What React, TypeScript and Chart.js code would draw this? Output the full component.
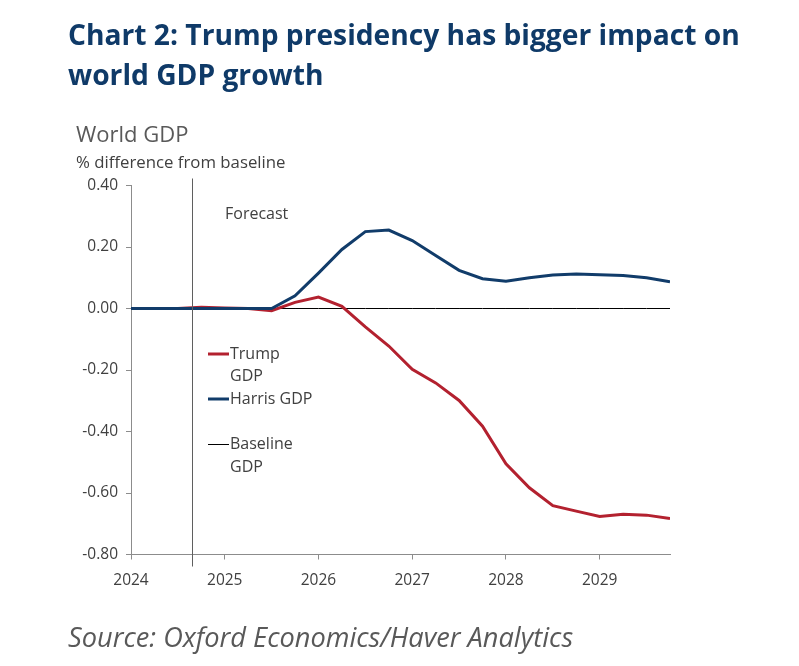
import React, { useEffect, useRef } from "react";
import { Chart, registerables } from "chart.js";

Chart.register(...registerables);

const QUARTERS = [
  2024.0, 2024.25, 2024.5, 2024.75,
  2025.0, 2025.25, 2025.5, 2025.75,
  2026.0, 2026.25, 2026.5, 2026.75,
  2027.0, 2027.25, 2027.5, 2027.75,
  2028.0, 2028.25, 2028.5, 2028.75,
  2029.0, 2029.25, 2029.5, 2029.75,
];
const TRUMP_GDP = [
  0.0, 0.0, 0.0, 0.004,
  0.002, 0.0, -0.007, 0.02,
  0.037, 0.007, -0.06, -0.122,
  -0.198, -0.242, -0.299, -0.383,
  -0.505, -0.583, -0.641, -0.659,
  -0.676, -0.669, -0.672, -0.683,
];
const HARRIS_GDP = [
  0.0, 0.0, 0.0, 0.0,
  0.0, 0.0, 0.0, 0.041,
  0.115, 0.192, 0.25, 0.255,
  0.221, 0.172, 0.124, 0.097,
  0.089, 0.1, 0.109, 0.112,
  0.11, 0.107, 0.1, 0.087,
];
const BASELINE_GDP = [
  0, 0, 0, 0, 0, 0, 0, 0, 0, 0, 0, 0,
  0, 0, 0, 0, 0, 0, 0, 0, 0, 0, 0, 0,
];
const YEAR_TICKS = [2024, 2025, 2026, 2027, 2028, 2029];
const Y_TICKS = [-0.8, -0.6, -0.4, -0.2, 0.0, 0.2, 0.4];
const FORECAST_START = 2024.65;

const TITLE_LINES = ["Chart 2: Trump presidency has bigger impact on", "world GDP growth"];
const SUBTITLE = "World GDP";
const UNITS = "% difference from baseline";
const SOURCE = "Source: Oxford Economics/Haver Analytics";
const FORECAST_LABEL = "Forecast";

const RED = "#b3212f";
const BLUE = "#113c6a";
const TEXT = "#404040";
const AXIS = "#8c8c8c";
const FONT = "'Open Sans', 'Noto Sans', sans-serif";

const LEGEND = [
  { lines: ["Trump", "GDP"], color: RED, width: 3 },
  { lines: ["Harris GDP"], color: BLUE, width: 3 },
  { lines: [""], color: null, width: 0 },
  { lines: ["Baseline", "GDP"], color: "#000000", width: 1 },
];

const overlayPlugin = {
  id: "overlay",
  afterDatasetsDraw(chart: any) {
    const { ctx, chartArea, scales } = chart;
    const x = scales.x.getPixelForValue(FORECAST_START);
    ctx.save();
    // forecast divider
    ctx.strokeStyle = "#5f5f5f";
    ctx.lineWidth = 1;
    ctx.beginPath();
    ctx.moveTo(Math.round(x) + 0.5, chartArea.top - 7);
    ctx.lineTo(Math.round(x) + 0.5, chartArea.bottom + 12);
    ctx.stroke();
    ctx.fillStyle = TEXT;
    ctx.font = `16px ${FONT}`;
    ctx.textBaseline = "middle";
    ctx.textAlign = "left";
    ctx.fillText(FORECAST_LABEL, chartArea.left + 94, chartArea.top + 29);

    // legend
    const lx = chartArea.left + 77;
    const rowH = 22.6;
    let row = 0;
    const y0 = chartArea.top + 168.5;
    for (const item of LEGEND) {
      const yy = y0 + row * rowH;
      if (item.color) {
        const off = item.width === 1 ? 0.5 : 0;
        ctx.strokeStyle = item.color;
        ctx.lineWidth = item.width;
        ctx.beginPath();
        ctx.moveTo(lx, Math.round(yy) + off);
        ctx.lineTo(lx + 21, Math.round(yy) + off);
        ctx.stroke();
      }
      item.lines.forEach((t, i) => {
        ctx.fillText(t, lx + 22, yy + i * rowH);
      });
      row += item.lines.length;
    }
    ctx.restore();
  },
};

export default function App() {
  const ref = useRef<HTMLCanvasElement | null>(null);

  useEffect(() => {
    document.body.style.margin = "0";
    const mk = (vals: number[]) => vals.map((v, i) => ({ x: QUARTERS[i], y: v }));
    const chart = new Chart(ref.current as HTMLCanvasElement, {
      type: "line",
      data: {
        datasets: [
          { label: "Harris GDP", data: mk(HARRIS_GDP), borderColor: BLUE, borderWidth: 3, pointRadius: 0, tension: 0, order: 0 },
          { label: "Trump GDP", data: mk(TRUMP_GDP), borderColor: RED, borderWidth: 3, pointRadius: 0, tension: 0, order: 1 },
          { label: "Baseline GDP", data: mk(BASELINE_GDP), borderColor: "#000000", borderWidth: 1, pointRadius: 0, tension: 0, order: 2 },
        ],
      },
      options: {
        animation: false,
        responsive: false,
        maintainAspectRatio: false,
        devicePixelRatio: 1,
        layout: { padding: { left: 70, right: 129, top: 185.5, bottom: 71.5 } },
        plugins: { legend: { display: false }, tooltip: { enabled: false }, title: { display: false } },
        scales: {
          x: {
            type: "linear",
            min: 2024,
            max: 2029.75,
            afterBuildTicks: (s: any) => { s.ticks = YEAR_TICKS.map((v) => ({ value: v })); },
            afterFit: (s: any) => { s.height = 40; },
            ticks: { color: TEXT, font: { family: FONT, size: 15.5 }, padding: 12, maxRotation: 0, autoSkip: false, callback: (v: any) => String(v) },
            grid: { drawOnChartArea: false, drawTicks: true, tickLength: 5, color: AXIS },
            border: { color: AXIS, width: 1 },
          },
          y: {
            min: -0.8,
            max: 0.4,
            afterBuildTicks: (s: any) => { s.ticks = Y_TICKS.map((v) => ({ value: v })); },
            afterFit: (s: any) => { s.width = 61; },
            ticks: { color: TEXT, font: { family: FONT, size: 15.5 }, padding: 8, callback: (v: any) => Number(v).toFixed(2) },
            grid: { drawOnChartArea: false, drawTicks: true, tickLength: 5, color: AXIS },
            border: { color: AXIS, width: 1 },
          },
        },
      },
      plugins: [overlayPlugin],
    });
    return () => chart.destroy();
  }, []);

  return (
    <div style={{ position: "relative", width: 799, height: 666, background: "#ffffff", overflow: "hidden" }}>
      <canvas ref={ref} width={799} height={666} style={{ position: "absolute", left: 0, top: 0 }} />
      <div style={{ position: "absolute", left: 68, top: 14, fontFamily: FONT, fontWeight: 700, fontSize: 28.2, lineHeight: "40px", color: "#0f3a68", whiteSpace: "nowrap" }}>
        {TITLE_LINES.map((t) => (<div key={t}>{t}</div>))}
      </div>
      <div style={{ position: "absolute", left: 76, top: 118, fontFamily: FONT, fontSize: 22, lineHeight: "30px", color: "#595959", whiteSpace: "nowrap" }}>{SUBTITLE}</div>
      <div style={{ position: "absolute", left: 76, top: 151, fontFamily: FONT, fontSize: 16.8, lineHeight: "22px", color: TEXT, whiteSpace: "nowrap" }}>{UNITS}</div>
      <div style={{ position: "absolute", left: 68, top: 619, fontFamily: FONT, fontStyle: "italic", fontSize: 27.2, lineHeight: "36px", color: "#595959", whiteSpace: "nowrap" }}>{SOURCE}</div>
    </div>
  );
}
